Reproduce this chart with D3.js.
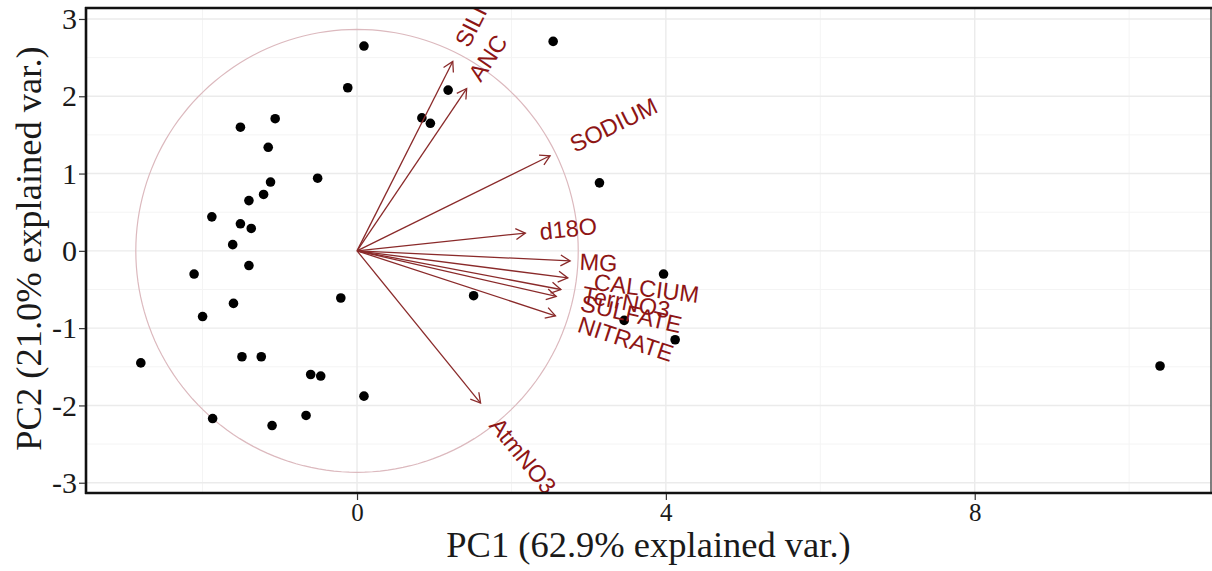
<!DOCTYPE html>
<html>
<head>
<meta charset="utf-8">
<script src="https://cdn.jsdelivr.net/npm/d3@7"></script>
<style>
  html, body { margin: 0; padding: 0; background: #ffffff; }
  svg { display: block; }
</style>
</head>
<body>
<svg id="chart" width="1212" height="571"></svg>
<script>
// PCA biplot: sample scores on PC1/PC2 with variable loading arrows

// Sample scores
const pc1 = [0.09, -0.12, -1.06, -1.51, -1.15, -0.51, -1.12, -1.21, -1.40, -1.88,
             -1.51, -1.37, -1.61, -1.40, -2.11, -0.21, -1.60, -2.00, -1.49, -1.24,
             -2.80, -0.60, -0.47, 0.09, -0.66, -1.87, -1.10, 2.54, 1.18, 0.84,
             0.95, 3.14, 3.97, 1.51, 3.46, 4.12, 10.40];
const pc2 = [2.65, 2.11, 1.71, 1.60, 1.34, 0.94, 0.89, 0.73, 0.65, 0.44,
             0.35, 0.29, 0.08, -0.19, -0.30, -0.61, -0.68, -0.85, -1.37, -1.37,
             -1.45, -1.60, -1.62, -1.88, -2.13, -2.17, -2.26, 2.71, 2.08, 1.72,
             1.65, 0.88, -0.30, -0.58, -0.90, -1.15, -1.49];

// Variable loadings (arrow end points)
const varNames = ["SILICA", "ANC", "SODIUM", "d18O", "MG", "CALCIUM", "TerrNO3", "SULFATE", "NITRATE", "AtmNO3"];
const varX = [1.24, 1.42, 2.50, 2.18, 2.76, 2.73, 2.64, 2.58, 2.57, 1.60];
const varY = [2.45, 2.10, 1.23, 0.23, -0.13, -0.35, -0.50, -0.59, -0.84, -1.97];

// Correlation circle radius
const circleRadius = 2.865;

// Axis ticks and titles
const xTicks = [0, 4, 8];
const xMinor = [-2, 2, 6, 10];
const yTicks = [-3, -2, -1, 0, 1, 2, 3];
const yMinor = [-2.5, -1.5, -0.5, 0.5, 1.5, 2.5];
const xTitle = "PC1 (62.9% explained var.)";
const yTitle = "PC2 (21.0% explained var.)";

const panel = { left: 86, right: 1211, top: 8, bottom: 493 };

const x = d3.scaleLinear().domain([-3.51, 11.06]).range([panel.left, panel.right]);
const y = d3.scaleLinear().domain([-3.133, 3.142]).range([panel.bottom, panel.top]);

const svg = d3.select("#chart");

svg.append("defs").append("clipPath").attr("id", "panel-clip")
  .append("rect")
  .attr("x", panel.left).attr("y", panel.top)
  .attr("width", panel.right - panel.left).attr("height", panel.bottom - panel.top);

// Grid
const grid = svg.append("g");
grid.selectAll("line.xminor").data(xMinor).join("line")
  .attr("x1", d => x(d)).attr("x2", d => x(d))
  .attr("y1", panel.top).attr("y2", panel.bottom)
  .attr("stroke", "#f4f4f4").attr("stroke-width", 1);
grid.selectAll("line.yminor").data(yMinor).join("line")
  .attr("y1", d => y(d)).attr("y2", d => y(d))
  .attr("x1", panel.left).attr("x2", panel.right)
  .attr("stroke", "#f4f4f4").attr("stroke-width", 1);
grid.selectAll("line.xmajor").data(xTicks).join("line")
  .attr("x1", d => x(d)).attr("x2", d => x(d))
  .attr("y1", panel.top).attr("y2", panel.bottom)
  .attr("stroke", "#ebebeb").attr("stroke-width", 1.4);
grid.selectAll("line.ymajor").data(yTicks).join("line")
  .attr("y1", d => y(d)).attr("y2", d => y(d))
  .attr("x1", panel.left).attr("x2", panel.right)
  .attr("stroke", "#ebebeb").attr("stroke-width", 1.4);

const plot = svg.append("g").attr("clip-path", "url(#panel-clip)");

// Correlation circle
const circ = d3.range(0, 361, 2).map(a => [circleRadius * Math.cos(a * Math.PI / 180), circleRadius * Math.sin(a * Math.PI / 180)]);
plot.append("path")
  .attr("d", d3.line().x(d => x(d[0])).y(d => y(d[1]))(circ))
  .attr("fill", "none")
  .attr("stroke", "#dcb9be")
  .attr("stroke-width", 1.2);

// Sample points
plot.selectAll("circle.pt").data(pc1.map((v, i) => [v, pc2[i]])).join("circle")
  .attr("cx", d => x(d[0])).attr("cy", d => y(d[1]))
  .attr("r", 4.8).attr("fill", "#000");

// Loading arrows
const arrowColor = "#8a2a2a";
const arrows = plot.append("g");
varNames.forEach((name, i) => {
  const x0 = x(0), y0 = y(0), x1 = x(varX[i]), y1 = y(varY[i]);
  arrows.append("line")
    .attr("x1", x0).attr("y1", y0).attr("x2", x1).attr("y2", y1)
    .attr("stroke", arrowColor).attr("stroke-width", 1.3);
  const ang = Math.atan2(y1 - y0, x1 - x0);
  const len = 11, spread = Math.PI / 6;
  const head = [
    [x1 - len * Math.cos(ang - spread), y1 - len * Math.sin(ang - spread)],
    [x1, y1],
    [x1 - len * Math.cos(ang + spread), y1 - len * Math.sin(ang + spread)]
  ];
  arrows.append("path")
    .attr("d", d3.line()(head))
    .attr("fill", "none").attr("stroke", arrowColor).attr("stroke-width", 1.3);
});

// Variable labels, rotated along each arrow
const labels = plot.append("g");
varNames.forEach((name, i) => {
  const px = x(varX[i]), py = y(varY[i]);
  const deg = Math.atan(varY[i] / varX[i]) * 180 / Math.PI;
  const t = labels.append("text")
    .attr("transform", `translate(${px},${py}) rotate(${-deg})`)
    .attr("font-family", "Liberation Sans, Arial, sans-serif")
    .attr("font-size", 23.5)
    .attr("fill", "#8e1515")
    .attr("dy", "0.36em")
    .attr("text-anchor", "start")
    .text(name);
  const w = t.node().getComputedTextLength();
  t.attr("x", 0.25 * w);
});

// Panel frame
svg.append("line").attr("x1", panel.right).attr("x2", panel.right)
  .attr("y1", panel.top).attr("y2", panel.bottom)
  .attr("stroke", "#555").attr("stroke-width", 1.5);
svg.append("line").attr("x1", panel.left - 1).attr("x2", panel.right + 1)
  .attr("y1", panel.top).attr("y2", panel.top)
  .attr("stroke", "#111").attr("stroke-width", 2.6);
svg.append("line").attr("x1", panel.left).attr("x2", panel.left)
  .attr("y1", panel.top - 1).attr("y2", panel.bottom + 1)
  .attr("stroke", "#111").attr("stroke-width", 2.6);
svg.append("line").attr("x1", panel.left - 1).attr("x2", panel.right + 1)
  .attr("y1", panel.bottom).attr("y2", panel.bottom)
  .attr("stroke", "#111").attr("stroke-width", 2.6);

// Axes
const xAxis = svg.append("g").attr("transform", `translate(0,${panel.bottom + 1})`)
  .call(d3.axisBottom(x).tickValues(xTicks).tickFormat(d3.format("d")).tickSize(6).tickPadding(3));
xAxis.select(".domain").remove();
xAxis.selectAll(".tick line").attr("stroke", "#333").attr("stroke-width", 1.2);
xAxis.selectAll(".tick text")
  .attr("font-family", "Liberation Serif, Times New Roman, serif")
  .attr("font-size", 25).attr("fill", "#1a1a1a");

const yAxis = svg.append("g").attr("transform", `translate(${panel.left - 1},0)`)
  .call(d3.axisLeft(y).tickValues(yTicks).tickFormat(d3.format("d")).tickSize(6).tickPadding(2));
yAxis.select(".domain").remove();
yAxis.selectAll(".tick line").attr("stroke", "#333").attr("stroke-width", 1.2);
yAxis.selectAll(".tick text")
  .attr("font-family", "Liberation Serif, Times New Roman, serif")
  .attr("font-size", 30).attr("fill", "#1a1a1a")
  .text(d => d < 0 ? "-" + Math.abs(d) : d);

// Axis titles
svg.append("text")
  .attr("x", (panel.left + panel.right) / 2).attr("y", 557)
  .attr("text-anchor", "middle")
  .attr("font-family", "Liberation Serif, Times New Roman, serif")
  .attr("font-size", 36.5).attr("fill", "#1a1a1a")
  .text(xTitle);
svg.append("text")
  .attr("transform", `translate(41,${(panel.top + panel.bottom) / 2 - 2}) rotate(-90)`)
  .attr("text-anchor", "middle")
  .attr("font-family", "Liberation Serif, Times New Roman, serif")
  .attr("font-size", 36.5).attr("fill", "#1a1a1a")
  .text(yTitle);
</script>
</body>
</html>
